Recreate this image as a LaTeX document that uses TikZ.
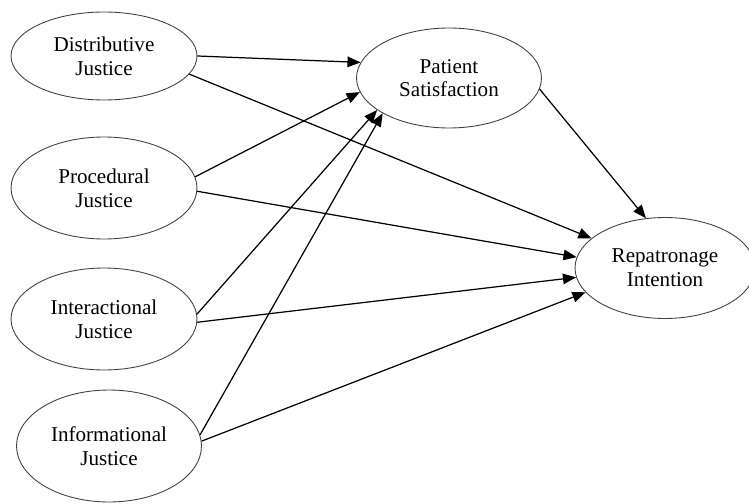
\documentclass[tikz,border=0pt]{standalone}
\usepackage{fontspec}
\setmainfont{Liberation Serif}
\usetikzlibrary{shapes.geometric,arrows.meta}

\tikzset{
	construct/.style={ellipse, draw=black!75, line width=0.5pt, inner sep=0pt,
		align=center, font=\fontsize{12}{13.5}\selectfont},
	path/.style={-{Triangle[length=7.5pt,width=6pt]}, line width=0.7pt}
}

\begin{document}
\begin{tikzpicture}[x=0.02cm,y=-0.02cm]
			% Frame
			\useasboundingbox (0,0) rectangle (749,503);

			% Justice dimensions
			\node[construct, minimum width=3.72cm, minimum height=1.76cm] (dist) at (104,56) {Distributive\\Justice};
			\node[construct, minimum width=3.72cm, minimum height=2.04cm] (proc) at (104,188) {Procedural\\Justice};
			\node[construct, minimum width=3.72cm, minimum height=2.04cm] (inter) at (104,319) {Interactional\\Justice};
			\node[construct, minimum width=3.70cm, minimum height=2.24cm] (info) at (109,446) {Informational\\Justice};

			% Outcomes
			\node[construct, minimum width=3.70cm, minimum height=2.00cm] (sat) at (449,78) {Patient\\Satisfaction};
			\node[construct, minimum width=3.60cm, minimum height=2.02cm] (rep) at (665,268) {Repatronage\\Intention};

			% Paths to satisfaction
			\draw[path] (dist.0) -- (sat.170);
			\draw[path] (proc.7) -- (sat.189);
			\draw[path] (inter.3) -- (sat.204);
			\draw[path] (info.7) -- (sat.208);

			% Paths to repatronage
			\draw[path] (dist.-12) -- (rep.158);
			\draw[path] (proc.-2) -- (rep.173);
			\draw[path] (inter.-2) -- (rep.186);
			\draw[path] (info.3) -- (rep.197);
			\draw[path] (sat.-7) -- (rep.111);
		\end{tikzpicture}
\end{document}
